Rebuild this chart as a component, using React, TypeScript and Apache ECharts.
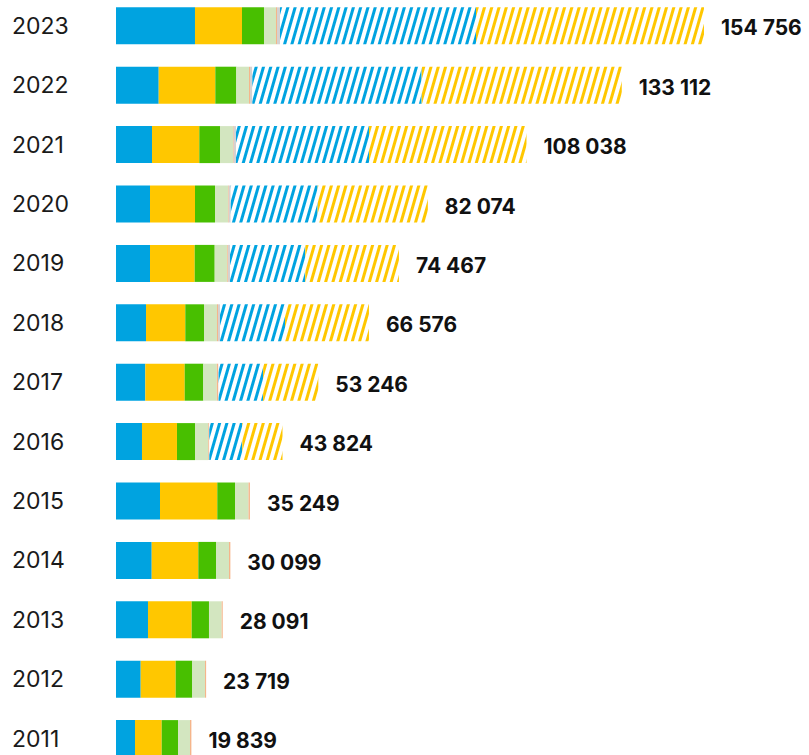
import React, { useEffect, useRef } from "react";
import * as echarts from "echarts";

const years = ["2011", "2012", "2013", "2014", "2015", "2016", "2017", "2018", "2019", "2020", "2021", "2022", "2023"];
const totals = [19839, 23719, 28091, 30099, 35249, 43824, 53246, 66576, 74467, 82074, 108038, 133112, 154756];

const blueSolid = [5000, 6500, 8420, 9400, 11580, 6840, 7710, 7900, 8950, 8950, 9475, 11240, 20790];
const yellowSolid = [7030, 9210, 11500, 12265, 15080, 9210, 10370, 10340, 11760, 11845, 12450, 14900, 12370];
const greenSolid = [4290, 4370, 4550, 4660, 4660, 4740, 4900, 4920, 5265, 5265, 5450, 5530, 5790];
const lightGreen = [3160, 3340, 3340, 3420, 3559, 3500, 3550, 3420, 3320, 3420, 3420, 3340, 3160];
const orangeThin = [359, 299, 281, 354, 370, 263, 340, 263, 184, 184, 184, 263, 263];
const greyThin = [0, 0, 0, 0, 0, 0, 130, 526, 526, 526, 605, 605, 790];
const blueHatched = [0, 0, 0, 0, 0, 8690, 11710, 17110, 19820, 22900, 35010, 44590, 51590];
const yellowHatched = [0, 0, 0, 0, 0, 10581, 14536, 22097, 24642, 28984, 41444, 52644, 60003];

const BLUE = "#00a3e0";
const YELLOW = "#ffc700";
const GREEN = "#48bf00";
const LIGHTGREEN = "#d3e6c0";
const ORANGE = "#f5b58a";
const GREY = "#d4d2d2";

const fmt = (v: number) => String(v).replace(/\B(?=(\d{3})+(?!\d))/g, " ");

const BAR_W = 37;

function hatch(color: string) {
  return {
    symbol: "rect",
    symbolSize: 1,
    color,
    dashArrayX: [1, 0],
    dashArrayY: [3, 3.2],
    rotation: (-74 * Math.PI) / 180,
  };
}

export default function App() {
  const ref = useRef<HTMLDivElement>(null);
  useEffect(() => {
    if (!ref.current) return;
    const chart = echarts.init(ref.current, undefined, { renderer: "svg" });
    const solid = (name: string, data: number[], color: string) => ({
      name,
      type: "bar",
      stack: "total",
      barWidth: BAR_W,
      data,
      itemStyle: { color },
      silent: true,
    });
    const hatched = (name: string, data: number[], color: string) => ({
      name,
      type: "bar",
      stack: "total",
      barWidth: BAR_W,
      data,
      itemStyle: { color: "#ffffff", decal: hatch(color) },
      silent: true,
    });
    chart.setOption({
      animation: false,
      backgroundColor: "#ffffff",
      grid: { left: 116, top: 6.1, height: 772.2, width: 683.9, containLabel: false },
      xAxis: {
        type: "value",
        min: 0,
        max: 180000,
        show: false,
      },
      yAxis: {
        type: "category",
        data: years,
        axisLine: { show: false },
        axisTick: { show: false },
        axisLabel: {
          align: "left",
          margin: 104,
          fontSize: 23,
          color: "#1a1a1a",
          fontFamily: "Inter",
          fontWeight: 400,
          padding: [4, 0, 0, 0],
        },
      },
      series: [
        solid("blue", blueSolid, BLUE),
        solid("yellow", yellowSolid, YELLOW),
        solid("green", greenSolid, GREEN),
        solid("lightgreen", lightGreen, LIGHTGREEN),
        solid("orange", orangeThin, ORANGE),
        solid("grey", greyThin, GREY),
        hatched("blueHatched", blueHatched, BLUE),
        hatched("yellowHatched", yellowHatched, YELLOW),
        {
          name: "total",
          type: "bar",
          barWidth: BAR_W,
          barGap: "-100%",
          data: totals,
          itemStyle: { color: "rgba(0,0,0,0)" },
          silent: true,
          z: 1,
          label: {
            show: true,
            position: "right",
            distance: 17,
            offset: [0, 2],
            formatter: (p: any) => fmt(totals[p.dataIndex]),
            fontSize: 21,
            fontWeight: 700,
            fontFamily: "Inter",
            color: "#111111",
          },
        },
      ],
    });
    return () => chart.dispose();
  }, []);
  return (
    <div
      ref={ref}
      style={{ position: "absolute", left: 0, top: -10, width: 809, height: 800 }}
    />
  );
}
